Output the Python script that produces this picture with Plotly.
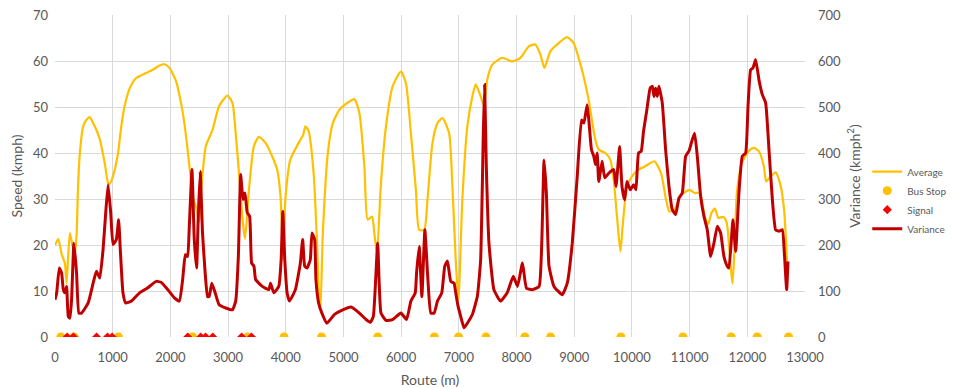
import plotly.graph_objects as go

# ---- data ----
avg_x = [0, 57, 115, 172, 201, 230, 259, 300, 340, 373, 400, 431, 488, 550, 603, 660, 718, 776, 862, 920, 948,
         1006, 1092, 1149, 1207, 1293, 1408, 1580, 1695, 1810, 1897, 1983, 2098, 2184, 2241, 2299, 2356, 2400,
         2450, 2500, 2540, 2615, 2730, 2845, 2989, 3075, 3132, 3190, 3247, 3293, 3362, 3448, 3534, 3649, 3764,
         3851, 3908, 3955, 3994, 4080, 4224, 4282, 4300, 4339, 4397, 4483, 4540, 4580, 4600, 4643, 4729, 4816,
         4931, 5104, 5190, 5276, 5363, 5420, 5495, 5535, 5581, 5650, 5737, 5852, 5996, 6082, 6169, 6255, 6313,
         6399, 6457, 6543, 6629, 6716, 6831, 6888, 6946, 6992, 7061, 7147, 7234, 7292, 7378, 7435, 7493, 7579,
         7752, 7924, 8068, 8212, 8327, 8414, 8483, 8586, 8730, 8874, 8989, 9133, 9249, 9364, 9425, 9540, 9626,
         9684, 9741, 9800, 9839, 9914, 10000, 10115, 10230, 10386, 10503, 10591, 10649, 10737, 10854, 11000,
         11088, 11175, 11263, 11322, 11380, 11439, 11497, 11585, 11643, 11702, 11743, 11778, 11819, 11906,
         12023, 12111, 12199, 12287, 12327, 12404, 12491, 12579, 12637, 12667, 12696]
avg_y = [20, 21.3, 18, 16, 11.7, 18, 22.6, 20, 17.8, 22, 33, 40, 45.8, 47.3, 47.8, 46.5, 45, 43, 37.8, 33.5, 33.3,
         35, 39.9, 45.8, 50.2, 54, 56.3, 57.4, 58.1, 59, 59.3, 58.5, 55.6, 50.9, 46.6, 40.7, 34.2, 30,
         28, 25, 33, 41.5, 45, 50.2, 52.5, 50.9, 44.3, 35.5, 26.2, 21.3, 32, 41.5, 43.5, 42.2, 39.3,
         36.4, 30.7, 16.8, 30, 38.6, 42.2, 43.5, 43.8, 45.8, 44.7, 35.6, 21, 8, 6, 22.6, 40, 46.5,
         49.4, 51.2, 51.7, 48.7, 37, 25.5, 26.2, 22.6, 18.3, 33.5, 45.8, 54.5, 57.7, 55.2, 44.3, 32, 23.3,
         23.3, 30, 42.2, 46.5, 47.6, 44.3, 32.8, 16.8, 8.1, 30, 45.8, 52.3, 54.9, 52.3, 50.2, 56, 59.2,
         60.7, 59.9, 60.7, 63.2, 63.6, 61.4, 58.5, 62.1, 63.9, 65.2, 63.9, 58.1, 51.6, 43, 40.7, 40, 38.5,
         34.2, 26.2, 18.6, 24, 32.7, 34.9, 36.4, 37.1, 38.2, 35.7, 29.9, 27.3, 27.7, 30.9, 32,
         31.3, 31.3, 26.2, 24.5, 27, 27.9, 25.9, 26.1, 24.8, 16.8, 11.6, 19, 31.3, 37.8,
         40.4, 41.1, 40.4, 37.1, 33.8, 34.9, 35.8, 32.8, 27.7, 21.9, 14.6]

var_x = [0, 29, 75, 115, 144, 172, 201, 230, 259, 287, 328, 374, 414, 460, 575, 661, 718, 776, 833, 879, 920,
         966, 1006, 1063, 1103, 1132, 1178, 1224, 1322, 1466, 1609, 1753, 1839, 1954, 2069, 2155, 2213, 2259,
         2299, 2328, 2374, 2414, 2454, 2483, 2517, 2557, 2603, 2644, 2672, 2718, 2776, 2845, 2960, 3075, 3132,
         3178, 3218, 3259, 3293, 3333, 3374, 3408, 3448, 3477, 3592, 3707, 3736, 3793, 3879, 3920, 3948, 3983,
         4023, 4063, 4167, 4253, 4293, 4328, 4368, 4425, 4454, 4500, 4523, 4569, 4626, 4713, 4845, 4988, 5132,
         5276, 5391, 5466, 5518, 5593, 5650, 5737, 5852, 5996, 6094, 6169, 6244, 6267, 6313, 6359, 6411, 6457,
         6514, 6572, 6629, 6704, 6756, 6802, 6860, 6917, 6946, 6986, 7032, 7090, 7147, 7234, 7320, 7378, 7424,
         7447, 7476, 7522, 7608, 7723, 7838, 7943, 8017, 8103, 8172, 8276, 8391, 8437, 8477, 8517, 8563, 8649,
         8793, 8879, 8966, 9052, 9126, 9167, 9224, 9253, 9299, 9339, 9368, 9397, 9425, 9483, 9529, 9598, 9684,
         9724, 9787, 9828, 9874, 9914, 9971, 10029, 10069, 10115, 10161, 10201, 10259, 10316, 10356, 10382,
         10410, 10439, 10468, 10526, 10584, 10642, 10699, 10757, 10815, 10873, 10931, 10988, 11046, 11087,
         11133, 11191, 11249, 11306, 11364, 11422, 11480, 11538, 11595, 11653, 11682, 11751, 11798, 11855,
         11913, 11971, 12012, 12058, 12098, 12145, 12202, 12260, 12318, 12376, 12434, 12491, 12549, 12607,
         12642, 12682, 12705]
var_y = [81, 96, 150, 139, 103, 96, 110, 45, 41, 81, 204, 139, 52, 52, 74, 117, 143, 128, 190, 270, 331,
         270, 201, 212, 255, 190, 96, 74, 78, 96, 107, 121, 119, 103, 85, 78, 125, 179,
         175, 241, 364, 212, 150, 262, 360, 226, 139, 88, 88, 117, 96, 70, 63, 59, 78,
         175, 353, 299, 313, 270, 262, 161, 154, 125, 110, 103, 117, 96, 110, 168, 273, 168,
         96, 78, 103, 161, 212, 154, 150, 168, 226, 212, 125, 74, 52, 30, 49, 59, 65,
         52, 38, 32, 45, 204, 52, 36, 38, 52, 38, 78, 96, 139, 197, 88, 233, 139,
         52, 52, 78, 96, 154, 165, 121, 117, 96, 67, 45, 20, 30, 49, 88, 168, 443,
         549, 371, 204, 103, 78, 96, 132, 110, 161, 106, 103, 110, 204, 385, 313, 154, 110,
         92, 117, 204, 349, 472, 465, 505, 472, 407, 393, 375, 400, 338, 382, 346, 356, 364,
         327, 414, 327, 298, 338, 320, 331, 320, 400, 404, 447, 494, 541, 545, 523,
         541, 523, 545, 509, 407, 328, 277, 266, 302, 313, 393, 404, 429, 443,
         393, 306, 262, 233, 175, 204, 241, 226, 175, 154, 150, 255, 186, 313,
         393, 400, 501, 581, 585, 603, 559, 527, 509, 407, 299, 233, 230, 233,
         183, 103, 164]

bus_stops = [100, 330, 1100, 2385, 3340, 3970, 4620, 5595, 6575, 6995, 7470, 8145, 8590, 9810,
             10885, 11720, 12170, 12715]
signals = [210, 320, 720, 910, 990, 2300, 2525, 2610, 2735, 3235, 3405]

x_ticks = list(range(0, 13001, 1000))
x_tick_labels = [str(v) for v in x_ticks]

GOLD = "#FFC000"
DARKRED = "#C00000"
SIGRED = "#FF0000"
GRAY = "#595959"
FONT = "Lato, Open Sans, sans-serif"

fig = go.Figure()
fig.add_trace(go.Scatter(x=avg_x, y=avg_y, mode="lines", name="Average",
                         line=dict(color=GOLD, width=2.2, shape="spline", smoothing=0.6)))
fig.add_trace(go.Scatter(x=bus_stops, y=[0] * len(bus_stops), mode="markers", name="Bus Stop",
                         marker=dict(color=GOLD, size=9, symbol="circle")))
fig.add_trace(go.Scatter(x=signals, y=[0] * len(signals), mode="markers", name="Signal",
                         marker=dict(color=SIGRED, size=7, symbol="diamond")))
fig.add_trace(go.Scatter(x=var_x, y=var_y, mode="lines", name="Variance", yaxis="y2",
                         line=dict(color=DARKRED, width=3, shape="spline", smoothing=0.4)))

fig.update_layout(
    width=946, height=380,
    margin=dict(l=47, r=149, t=7, b=51, autoexpand=False),
    paper_bgcolor="white", plot_bgcolor="white",
    font=dict(family=FONT, color=GRAY, size=13),
    showlegend=True,
    legend=dict(x=1.083, y=0.425, xanchor="left", yanchor="middle",
                font=dict(size=10, color=GRAY, family=FONT),
                bgcolor="rgba(0,0,0,0)", tracegroupgap=0, itemwidth=30),
    xaxis=dict(range=[0, 13000], tickvals=x_ticks, ticktext=x_tick_labels,
               showgrid=True, gridcolor="#D9D9D9", automargin=False, ticklabeloverflow="allow",
               zeroline=False, showline=False, ticks="", ticklabelstandoff=11,
               title=dict(text="Route (m)", font=dict(size=14, color=GRAY), standoff=15),
               tickfont=dict(size=13, color=GRAY)),
    yaxis=dict(range=[0, 70], dtick=10, showgrid=True, gridcolor="#D9D9D9", automargin=False,
               ticklabeloverflow="allow",
               zeroline=False, showline=False, ticks="", ticklabelstandoff=6,
               title=dict(text="Speed (kmph)", font=dict(size=14, color=GRAY), standoff=8),
               tickfont=dict(size=13, color=GRAY)),
    yaxis2=dict(range=[0, 700], dtick=100, overlaying="y", side="right", showgrid=False,
                automargin=False, ticklabeloverflow="allow",
                zeroline=False, showline=False, ticks="", ticklabelstandoff=12,
                title=dict(text="Variance (kmph<sup>2</sup>)", font=dict(size=14, color=GRAY), standoff=10),
                tickfont=dict(size=13, color=GRAY)),
)

fig.write_html("out.html")
